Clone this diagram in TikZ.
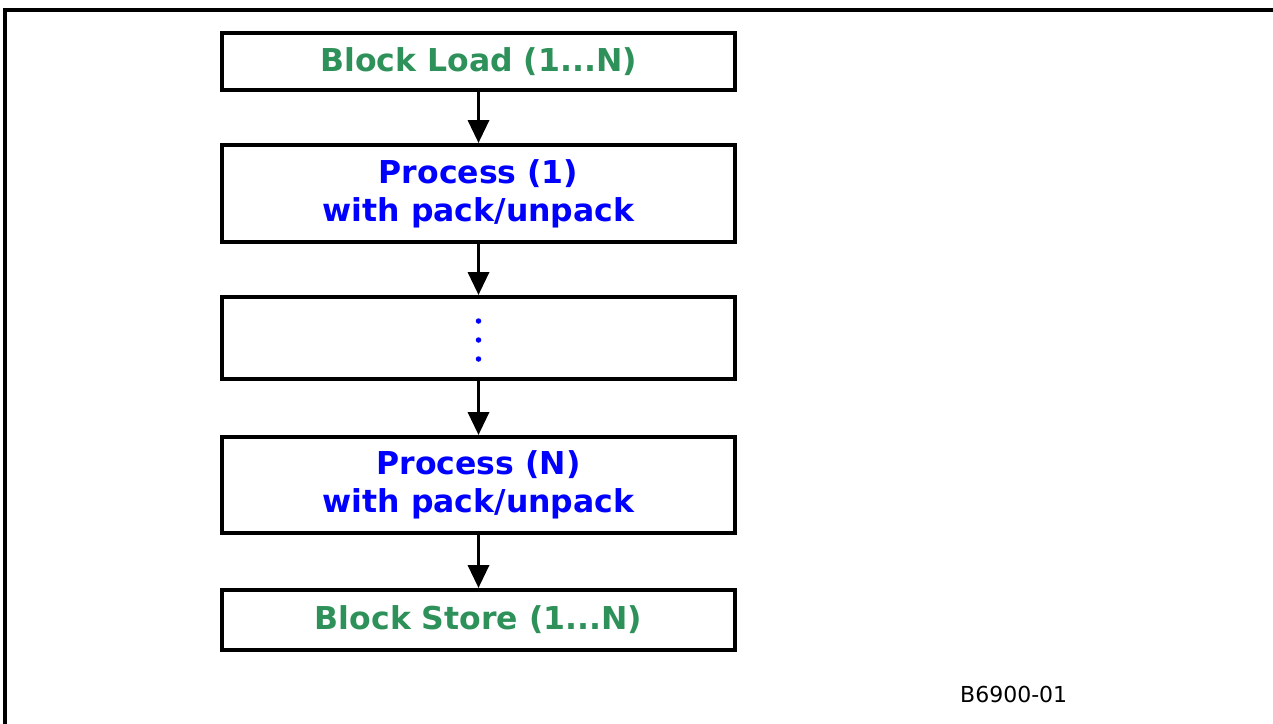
\documentclass[tikz,border=0pt]{standalone}
\usepackage{fontspec}
\setmainfont{DejaVu Sans}
\usetikzlibrary{arrows.meta}
\definecolor{stagegreen}{RGB}{46,145,90}
\definecolor{procblue}{RGB}{0,0,255}
\begin{document}
\begin{tikzpicture}[x=1pt,y=-1pt,
  stagebox/.style={draw=black,line width=4pt,minimum width=513pt,inner sep=0pt,
    font=\fontsize{31.5}{38}\selectfont\bfseries,align=center},
  loadtext/.style={text=stagegreen},
  proctext/.style={text=procblue},
  dot/.style={circle,fill=procblue,inner sep=0pt,minimum size=5.5pt},
  flow/.style={line width=3.5pt,-{Triangle[width=21pt,length=23pt]}}]
\useasboundingbox (0,0) rectangle (1273,723);
% outer frame (left and top edges)
\draw[line width=3.5pt] (5,730) -- (5,10) -- (1280,10);
% stages
\node[stagebox,loadtext,minimum height=57pt] (load) at (478.5,61.5) {Block Load (1...N)};
\node[stagebox,proctext,minimum height=97pt] (proc1) at (478.5,193.5) {Process (1)\\with pack/unpack};
\node[stagebox,minimum height=82pt] (mid) at (478.5,338) {};
\node[dot] (dotA) at (478.5,321) {};
\node[dot] (dotB) at (478.5,340) {};
\node[dot] (dotC) at (478.5,359) {};
\node[stagebox,proctext,minimum height=96pt] (procN) at (478.5,485) {Process (N)\\with pack/unpack};
\node[stagebox,loadtext,minimum height=60pt] (store) at (478.5,620) {Block Store (1...N)};
% connectors
\draw[flow] (load) -- (proc1);
\draw[flow] (proc1) -- (mid);
\draw[flow] (mid) -- (procN);
\draw[flow] (procN) -- (store);
% figure number
\node[anchor=base west,font=\fontsize{22}{26}\selectfont,inner sep=0pt] (fignum) at (960,702) {B6900-01};
\end{tikzpicture}
\end{document}
